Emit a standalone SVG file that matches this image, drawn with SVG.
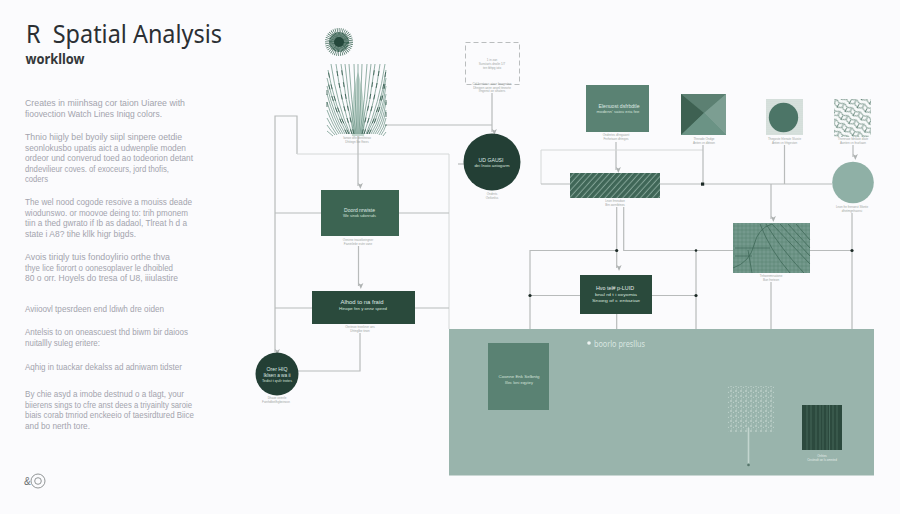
<svg xmlns="http://www.w3.org/2000/svg" width="900" height="514" viewBox="0 0 900 514">
<style>
text{font-family:"Liberation Sans","Noto Sans",sans-serif}
.title{font-family:"Noto Sans","Liberation Sans",sans-serif}
.b{font-size:9px;fill:#a3a4ad}
.c{font-size:3px;fill:#9fa6a4;text-anchor:middle}
.l{font-size:5.200px;fill:#dfe9e4;text-anchor:middle}
.s{font-size:4.200px;fill:#d3e0da;text-anchor:middle}
.k{fill:none;stroke:#b8bbbb;stroke-width:1.2}
.t{fill:none;stroke:#d5d8d8;stroke-width:1}
.d{fill:#1c2a26}
</style>
<defs>
<marker id="a" markerWidth="7" markerHeight="7" refX="3" refY="5" orient="auto-start-reverse" markerUnits="userSpaceOnUse" viewBox="0 0 6 6"><path d="M3 5.5 0.8 0.5 3 1.8 5.2 0.5z" fill="#aeb2b2" transform="rotate(-90 3 3)"/></marker>
<pattern id="h" width="4.400" height="4.400" patternUnits="userSpaceOnUse" patternTransform="rotate(-48)"><rect width="4.400" height="4.400" fill="#3f6657"/><path d="M0 1.200H4.400" stroke="#93b3a7" stroke-width="0.8"/></pattern>
<pattern id="g" width="4" height="4" patternUnits="userSpaceOnUse"><rect width="4" height="4" fill="#74998d"/><path d="M0 2H4M2 0V4" stroke="#517a6b" stroke-width="0.45"/></pattern>
<pattern id="p" width="2" height="2" patternUnits="userSpaceOnUse"><rect width="2" height="2" fill="#e2e9e6"/><circle cx="1" cy="1" r="0.45" fill="#7b9a90"/></pattern>
<pattern id="w" width="5" height="5" patternUnits="userSpaceOnUse"><circle cx="1" cy="1" r="0.7" fill="#dce8e3"/><circle cx="3.500" cy="2.300" r="0.55" fill="#c8d9d3"/><circle cx="1.500" cy="3.900" r="0.45" fill="#e4ecea"/></pattern>
<pattern id="m" width="9" height="9" patternUnits="userSpaceOnUse" patternTransform="rotate(28)"><path d="M0 2Q2 0 4.500 2T9 2M0 6.500Q2 4.500 4.500 6.500T9 6.500M2 2V5M6.500 3.500V8" fill="none" stroke="#456b5d" stroke-width="0.7"/></pattern>
</defs>
<rect width="900" height="514" fill="#fbfbfd"/>
<g id="sidebar">
<text class="title" x="26" y="43" font-size="25" fill="#2b2f33" textLength="196" lengthAdjust="spacingAndGlyphs" xml:space="preserve">R  Spatial Analysis</text>
<text class="title" x="25.500" y="64" font-size="14" font-weight="700" fill="#343739" textLength="59" lengthAdjust="spacingAndGlyphs">workllow</text>
<g class="body">
<text class="b" x="25" y="106" textLength="160" lengthAdjust="spacingAndGlyphs">Creates in miinhsag cor taion Uiaree with</text>
<text class="b" x="25" y="117" textLength="137" lengthAdjust="spacingAndGlyphs">fioovection Watch Lines Iniqg colors.</text>
<text class="b" x="25" y="140" textLength="157" lengthAdjust="spacingAndGlyphs">Thnio hiigly bel byoily siipl sinpere oetdie</text>
<text class="b" x="25" y="150.500" textLength="161" lengthAdjust="spacingAndGlyphs">seonlokusbo upatis aict a udwenplie moden</text>
<text class="b" x="25" y="161" textLength="168" lengthAdjust="spacingAndGlyphs">ordeor und converud toed ao todeorion detant</text>
<text class="b" x="25" y="171.500" textLength="144" lengthAdjust="spacingAndGlyphs">dndevilieur coves. of exoceurs, jord thofis,</text>
<text class="b" x="25" y="182" textLength="23" lengthAdjust="spacingAndGlyphs">coders</text>
<text class="b" x="25" y="205" textLength="167" lengthAdjust="spacingAndGlyphs">The wel nood cogode resoive a mouiss deade</text>
<text class="b" x="25" y="215.500" textLength="163" lengthAdjust="spacingAndGlyphs">wiodunswo. or moovoe deing to: trih pmonem</text>
<text class="b" x="25" y="226" textLength="162" lengthAdjust="spacingAndGlyphs">tiin a thed gwrato if Ib as dadaol, Tlreat h d a</text>
<text class="b" x="25" y="236.500" textLength="111" lengthAdjust="spacingAndGlyphs">state i A8? tihe kllk higr bigds.</text>
<text class="b" x="25" y="260" textLength="145" lengthAdjust="spacingAndGlyphs">Avois tiriqly tuis fondoylirio orthe thva</text>
<text class="b" x="25" y="270.500" textLength="148" lengthAdjust="spacingAndGlyphs">thye lice fiorort o oonesoplaver le dhoibled</text>
<text class="b" x="25" y="281" textLength="153" lengthAdjust="spacingAndGlyphs">80 o orr. Hoyels do tresa of U8, iiiulastire</text>
<text class="b" x="25" y="312" textLength="139" lengthAdjust="spacingAndGlyphs">Aviioovl tpesrdeen end ldiwh dre oiden</text>
<text class="b" x="25" y="335" textLength="163" lengthAdjust="spacingAndGlyphs">Antelsis to on oneascuest thd biwm bir daioos</text>
<text class="b" x="25" y="346" textLength="75" lengthAdjust="spacingAndGlyphs">nuitallly suleg eritere:</text>
<text class="b" x="25" y="370" textLength="157" lengthAdjust="spacingAndGlyphs">Aqhig in tuackar dekalss ad adniwam tidster</text>
<text class="b" x="25" y="397" textLength="159" lengthAdjust="spacingAndGlyphs">By chie asyd a imobe destnud o a tlagt, your</text>
<text class="b" x="25" y="407.500" textLength="167" lengthAdjust="spacingAndGlyphs">biierens sings to cfre anst dees a triyainlty saroie</text>
<text class="b" x="25" y="418" textLength="169" lengthAdjust="spacingAndGlyphs">biais corab tmriod enckeeio of taesirdtured Biice</text>
<text class="b" x="25" y="428.500" textLength="65" lengthAdjust="spacingAndGlyphs">and bo nerth tore.</text>
</g>
<text x="24" y="485" font-size="10" fill="#6a6e70">&amp;</text>
<circle cx="38" cy="481" r="7" fill="none" stroke="#85898a" stroke-width="0.9"/>
<circle cx="38" cy="481" r="3.300" fill="none" stroke="#85898a" stroke-width="0.9"/>
</g>
<g id="connectors">
<path class="k" d="M297 154V116H275V352" marker-end="url(#a)"/>
<path class="t" d="M297 154H449V329"/>
<path class="k" d="M275 213H321M399 213H449M275 308H312M415 308H449"/>
<path class="k" d="M358 136V186" marker-end="url(#a)"/>
<path class="k" d="M358.500 246V286" marker-end="url(#a)"/>
<path class="k" d="M360 333V371H298"/>
<path class="k" d="M387 125H492"/>
<path class="k" d="M492 93V132" marker-end="url(#a)"/>
<path class="k" d="M458 164H464"/>
<path class="k" d="M616 142V170" marker-end="url(#a)"/>
<path class="t" d="M703 150H541V184"/>
<path class="k" d="M703 145V184"/>
<path class="k" d="M541 184H570M660 184H832M784.500 145V184"/>
<path class="k" d="M771 184V219" marker-end="url(#a)"/>
<path class="k" d="M853 145V157" marker-end="url(#a)"/>
<path class="k" d="M616.700 207V268" marker-end="url(#a)"/>
<path class="k" d="M623.700 207V250.500H733M810 250.500H852"/>
<path class="k" d="M530 329V250.500H616.700M530 295.500H580M652 295.500H696M696 250.500V329M616.700 314V329M771 282V329M852 213V329"/>
<g class="d"><rect x="701" y="182.500" width="3.200" height="3.200"/><circle cx="616.700" cy="250.500" r="1.600"/><circle cx="696" cy="250.500" r="1.300"/><circle cx="852" cy="250.500" r="1.600"/><circle cx="530" cy="295.500" r="1.600"/><circle cx="696" cy="295.500" r="1.600"/></g>
</g>
<g id="burst">
<circle cx="339" cy="42" r="9" fill="none" stroke="#3b6656" stroke-width="10" stroke-dasharray="0.5 0.9"/>
<circle cx="339" cy="42" r="7" fill="none" stroke="#2f5a4a" stroke-width="6" stroke-dasharray="0.7 0.4"/>
<circle cx="339" cy="42" r="5" fill="#24473b"/>
</g>
<g id="fan-plant">
<path d="M352 136C350 110 354 85 358 72C362 85 366 110 364 136z" fill="#c3d6cf"/>
<path fill="none" stroke="#668f81" stroke-width="0.7" d="M358 134V64M357 134Q355 100 354 64M359 134Q361 100 362 64M356 134Q351 100 349 64M360 134Q365 100 367 64M355 134Q348 100 345 64M361 134Q368 100 371 64M354 134Q345 100 341 64M362 134Q371 100 375 64M352 134Q341 102 336 64M364 134Q375 102 380 64M350 134Q337 104 331 64M366 134Q379 104 385 64M349 134Q335 108 328 70M367 134Q381 108 386 70M347 134Q335 112 327 78M369 134Q381 112 386 78M345 134Q334 116 327 86M371 134Q382 116 386 86M343 134Q334 120 327 94M373 134Q382 120 386 94M341 134Q333 122 327 102M375 134Q383 122 386 102M339 134Q333 126 327 110M377 134Q383 126 386 110M337 135Q332 128 327 118M379 135Q384 128 386 118M335 135Q331 131 327 125M381 135Q384 131 386 125M333 136L327 131M383 136L386 132"/>
<path fill="none" stroke="#2f5547" stroke-width="0.8" stroke-dasharray="5 7" d="M352 134Q341 102 336 64M364 134Q375 102 380 64M349 134Q335 108 328 70M367 134Q381 108 386 70M354 134Q345 100 341 64M362 134Q371 100 375 64M347 134Q335 112 327 78M369 134Q381 112 386 78M386 100V126M327 90V112"/>
<text class="c" x="357" y="139">Iwnoe dfle dretilniroo</text>
<text class="c" x="357" y="142.500">Dhitegn lbe fhees</text>
</g>
<g id="dashed-note">
<rect x="465.500" y="42.500" width="54" height="42" fill="none" stroke="#a9adad" stroke-width="0.8" stroke-dasharray="5 3"/>
<text class="c" x="492" y="61">1 in zan</text>
<text class="c" x="492" y="65">Sunstarts dnolin 1/7</text>
<text class="c" x="492" y="69">ten tbhpg ioto</text>
<text class="c" x="492" y="85">Ctrl bontrncs aiour bnogertne</text>
<text class="c" x="492" y="88.500">Dhnigen aeinr oeonl ttnesrte</text>
<text class="c" x="492" y="92">Irngenst oe sihaters</text>
</g>
<g id="dark-circle">
<circle cx="492" cy="162" r="28.500" fill="#233f35"/>
<text class="l" x="491" y="161.500" textLength="25" lengthAdjust="spacingAndGlyphs">UD GAUSI</text>
<text class="s" x="492" y="167" textLength="35" lengthAdjust="spacingAndGlyphs">dei Inoio aeiogarm</text>
<text class="c" x="492" y="195">Ondrnts</text>
<text class="c" x="492" y="198.500">Oetlonlss</text>
</g>
<g id="node-import">
<rect x="321" y="190" width="78" height="46" fill="#3c6452"/>
<text class="l" x="359.500" y="211.500" textLength="31" lengthAdjust="spacingAndGlyphs">Doord nrwiste</text>
<text class="s" x="359.500" y="216.800" textLength="33" lengthAdjust="spacingAndGlyphs">We sinok sdonrsds</text>
<text class="c" x="358" y="241">Oenirne tnaiotkeingner</text>
<text class="c" x="358" y="244.500">Fianinlinbr esitn vane</text>
</g>
<g id="node-process">
<rect x="312" y="291" width="103" height="33" fill="#2a4a3c"/>
<text class="l" x="362" y="304" textLength="43" lengthAdjust="spacingAndGlyphs">Alhod to na fraid</text>
<text class="s" x="363" y="309.500" textLength="48" lengthAdjust="spacingAndGlyphs">Hinope fen y onnz speed</text>
<text class="c" x="360" y="328">Oeriinoe tneekner ans</text>
<text class="c" x="360" y="331.500">Dhtnglbe tinon</text>
</g>
<g id="node-output">
<circle cx="277" cy="374" r="21.500" fill="#233f35"/>
<text class="l" x="277" y="370.500" textLength="21" lengthAdjust="spacingAndGlyphs">Orer HIQ</text>
<text class="l" x="277" y="376.500" textLength="27" lengthAdjust="spacingAndGlyphs">Iklsen a wa ii</text>
<text class="s" x="277" y="381.800" textLength="30" lengthAdjust="spacingAndGlyphs">Tedist t qsilr trotes</text>
<text class="c" x="277" y="399">Dhaoe oeinrle</text>
<text class="c" x="276" y="402.500">Foinhdbetlhgbeinosn</text>
</g>
<g id="node-sample">
<rect x="586" y="85" width="63" height="47" fill="#5a8273"/>
<text class="l" x="619" y="107.500" textLength="41" lengthAdjust="spacingAndGlyphs">Elenuost dsfrbdtle</text>
<text class="s" x="618" y="112.800" textLength="43" lengthAdjust="spacingAndGlyphs">modenn' saiou eria fee</text>
<text class="c" x="616" y="136">Ondnrtes dfrngaiont</text>
<text class="c" x="616" y="139.500">Fnrhetaon dhtnges</text>
</g>
<g id="node-pyramid">
<rect x="681" y="94" width="45" height="41" fill="#5e8878"/>
<path d="M681 94H726L704 113z" fill="#5c8072"/>
<path d="M681 94V135L704 113z" fill="#3e6152"/>
<path d="M726 94V135L704 113z" fill="#7c9e92"/>
<path d="M681 135H726L704 113z" fill="#6b9385"/>
<text class="c" x="704" y="140">Thnrode Ondge</text>
<text class="c" x="704" y="143.500">Anten cn dbteon</text>
</g>
<g id="node-dots">
<rect x="766" y="99" width="37" height="36" fill="url(#p)"/>
<circle cx="783.500" cy="117.500" r="14.700" fill="#4c7567"/>
<text class="c" x="784.500" y="140">Thegoste frlenate Sluiste</text>
<text class="c" x="784.500" y="143.500">Anten cn frhgeston</text>
</g>
<g id="node-maze">
<rect x="834" y="99" width="37" height="38" fill="#f8fafa"/>
<rect x="834" y="99" width="37" height="38" fill="url(#m)"/>
<text class="c" x="853" y="140">Thenrsoe fdnliate dlate</text>
<text class="c" x="853" y="143.500">Aonten cn fnurliaon</text>
</g>
<g id="node-hatch">
<rect x="570" y="173" width="90" height="25" fill="url(#h)"/>
<text class="c" x="615" y="202">Lnon frnesdwe</text>
<text class="c" x="615" y="205.500">Brn oorntbtnes</text>
</g>
<g id="node-teal-circle">
<circle cx="853" cy="182.500" r="20.800" fill="#8fb0a6"/>
<text class="c" x="852" y="208">Lnon fre frenoest Sfonte</text>
<text class="c" x="852" y="211.500">dhetmgnhasnsi</text>
</g>
<g id="node-map">
<rect x="733" y="223" width="77" height="50" fill="url(#g)"/>
<path fill="none" stroke="#3f6858" stroke-width="0.8" d="M733 268Q750 262 754 245T772 224M766 224Q782 250 804 273M772 224L810 264M780 224L810 256M788 224L810 248M796 224L810 240M760 224Q770 250 790 273M752 273L748 250M735 248H770M735 256H752"/>
<text class="c" x="771" y="277">Tnhoenmrsatone</text>
<text class="c" x="771" y="280.500">Bun fneteon</text>
</g>
<g id="node-result">
<rect x="580" y="275" width="72" height="39" fill="#2a4a3c"/>
<text class="l" x="615" y="290" textLength="38" lengthAdjust="spacingAndGlyphs" style="fill:#e4ece8">Hvo tel# p-LUID</text>
<text class="s" x="616" y="296" textLength="42" lengthAdjust="spacingAndGlyphs">bnal rd t i oxyomia</text>
<text class="s" x="616" y="302" textLength="48" lengthAdjust="spacingAndGlyphs">Snoeg of c entoziae</text>
</g>
<g id="panel">
<rect x="449" y="329" width="425" height="146.500" fill="#99b4ac"/>
<circle cx="589" cy="343" r="1.800" fill="#eef4f2"/>
<text class="title" x="594" y="346.500" font-size="8" fill="#d8e5e0" textLength="51" lengthAdjust="spacingAndGlyphs">boorlo presllus</text>
<g id="panel-box">
<rect x="488" y="343" width="61" height="67" fill="#5a8273"/>
<text class="s" x="519" y="378" textLength="41" lengthAdjust="spacingAndGlyphs">Coonne Enk Selbntg</text>
<text class="s" x="519" y="383.500" textLength="28" lengthAdjust="spacingAndGlyphs">Illec loni eqyiiey</text>
</g>
<g id="panel-tree">
<rect x="727" y="386" width="47" height="46" fill="url(#w)"/>
<path d="M748.500 428V463" stroke="#c3d5cf" stroke-width="1.600" fill="none"/>
<circle cx="748.500" cy="465" r="1.300" fill="#56766b"/>
</g>
<g id="panel-stripes">
<rect x="802" y="405" width="40" height="45" fill="#2c4a3e"/>
<path fill="none" stroke="#5f8676" stroke-width="0.5" d="M807 405V450M811 405V450M816 405V450M820 405V450M823 405V450M827 405V450M829.500 405V450M833 405V450M837 405V450"/>
<text class="c" x="822" y="457" style="fill:#e2ebe8">Onhtes</text>
<text class="c" x="822" y="460.500" style="fill:#e2ebe8">Cnstinolt oe ls omnted</text>
</g>
</g>
</svg>
